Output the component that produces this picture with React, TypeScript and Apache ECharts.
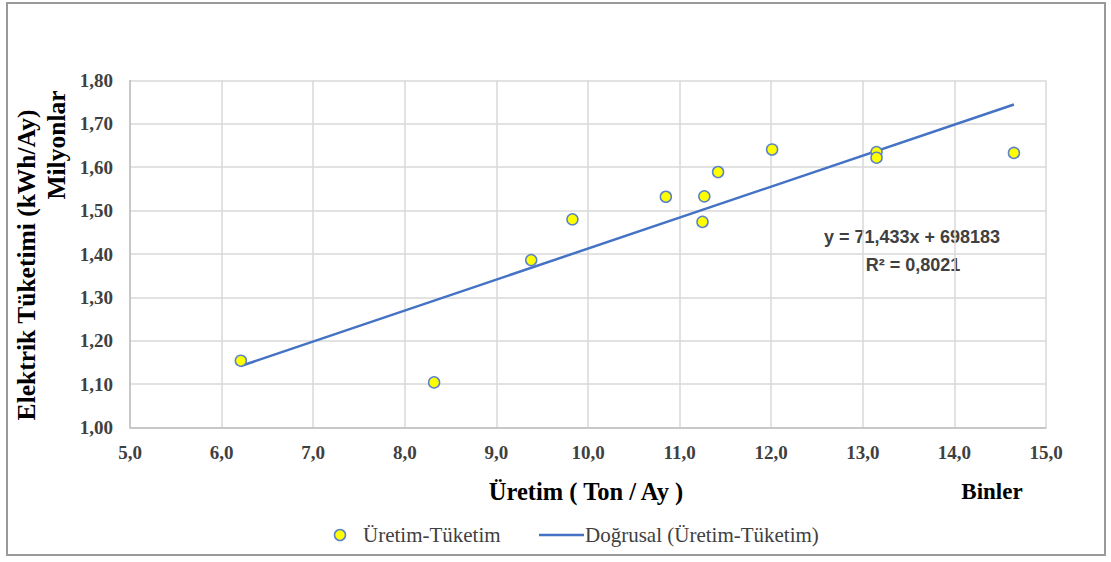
import React, { useEffect, useRef } from "react";
import * as echarts from "echarts";

// Üretim (Ton/Ay, Binler) and Elektrik Tüketimi (kWh/Ay, Milyonlar)
const productionK: number[] = [6.21, 8.32, 9.38, 9.83, 10.85, 11.25, 11.27, 11.42, 12.01, 13.15, 13.15, 14.65];
const consumptionM: number[] = [1.154, 1.104, 1.386, 1.48, 1.532, 1.474, 1.533, 1.589, 1.641, 1.635, 1.622, 1.633];

// Trend line (Doğrusal) from the printed equation: y = 71,433x + 698183
const SLOPE = 71.433;
const INTERCEPT = 698183;
const R2 = "0,8021";

const xTicks = { min: 5, max: 15, interval: 1 };
const yTicks = { min: 1.0, max: 1.8, interval: 0.1 };

const seriesNames = ["Üretim-Tüketim", "Doğrusal (Üretim-Tüketim)"];

const SERIF = "'Liberation Serif', 'Times New Roman', serif";
const SANS = "'Liberation Sans', Arial, sans-serif";
const LINE_COLOR = "#4472c4";

export default function App() {
  const ref = useRef<HTMLDivElement>(null);

  useEffect(() => {
    if (!ref.current) return;
    const chart = echarts.init(ref.current, undefined, { renderer: "svg" });

    const points = productionK.map((x, i) => [x, consumptionM[i]]);
    const xMin = Math.min(...productionK);
    const xMax = Math.max(...productionK);
    const trend = (xk: number) => (SLOPE * xk * 1000 + INTERCEPT) / 1e6;
    const trendData = [
      [xMin, trend(xMin)],
      [xMax, trend(xMax)],
    ];

    const titleText = (text: string, x: number, y: number, size: number, rot = 0) => ({
      type: "text",
      x,
      y,
      rotation: rot,
      silent: true,
      style: {
        text,
        fontFamily: SERIF,
        fontWeight: "bold",
        fontSize: size,
        fill: "#000000",
        align: "center",
        verticalAlign: "middle",
      },
    });

    chart.setOption({
      animation: false,
      backgroundColor: "#ffffff",
      grid: { left: 130, right: 65, top: 80.5, bottom: 134.5, containLabel: false },
      xAxis: {
        type: "value",
        min: xTicks.min,
        max: xTicks.max,
        interval: xTicks.interval,
        axisLine: { show: true, lineStyle: { color: "#bfbfbf", width: 1.5 } },
        axisTick: { show: false },
        splitLine: { show: true, lineStyle: { color: "#d9d9d9", width: 1.5 } },
        axisLabel: {
          margin: 15,
          color: "#404040",
          fontFamily: SERIF,
          fontWeight: "bold",
          fontSize: 19,
          formatter: (v: number) => v.toFixed(1).replace(".", ","),
        },
      },
      yAxis: {
        type: "value",
        min: yTicks.min,
        max: yTicks.max,
        interval: yTicks.interval,
        axisLine: { show: true, lineStyle: { color: "#bfbfbf", width: 1.5 } },
        axisTick: { show: false },
        splitLine: { show: true, lineStyle: { color: "#d9d9d9", width: 1.5 } },
        axisLabel: {
          margin: 17,
          color: "#404040",
          fontFamily: SERIF,
          fontWeight: "bold",
          fontSize: 19,
          formatter: (v: number) => v.toFixed(2).replace(".", ","),
        },
      },
      series: [
        {
          name: seriesNames[1],
          type: "line",
          data: trendData,
          symbol: "none",
          lineStyle: { color: LINE_COLOR, width: 2.5 },
          itemStyle: { color: LINE_COLOR },
          z: 2,
        },
        {
          name: seriesNames[0],
          type: "scatter",
          data: points,
          symbol: "circle",
          symbolSize: 11,
          itemStyle: { color: "#ffff00", borderColor: "#5b83c6", borderWidth: 1.5, opacity: 1 },
          z: 3,
        },
      ],
      graphic: [
        {
          type: "rect",
          shape: { x: 7, y: 3, width: 1098, height: 552 },
          style: { fill: "none", stroke: "#9a9a9a", lineWidth: 2 },
          silent: true,
        },
        titleText("Elektrik Tüketimi (kWh/Ay)", 26, 265, 25.5, Math.PI / 2),
        titleText("Milyonlar", 56, 145, 25.5, Math.PI / 2),
        titleText("Üretim ( Ton / Ay )", 586, 491, 24.5),
        titleText("Binler", 992, 491, 23),
        {
          type: "text",
          x: 912,
          y: 237,
          silent: true,
          style: {
            text: "y = " + SLOPE.toFixed(3).replace(".", ",") + "x + " + INTERCEPT,
            fontFamily: SANS,
            fontWeight: "bold",
            fontSize: 18,
            fill: "#404040",
            align: "center",
            verticalAlign: "middle",
          },
        },
        {
          type: "text",
          x: 913,
          y: 265,
          silent: true,
          style: {
            text: "R² = " + R2,
            fontFamily: SANS,
            fontWeight: "bold",
            fontSize: 18,
            fill: "#404040",
            align: "center",
            verticalAlign: "middle",
          },
        },
        // legend
        {
          type: "circle",
          silent: true,
          shape: { cx: 340, cy: 535, r: 5.5 },
          style: { fill: "#ffff00", stroke: "#5b83c6", lineWidth: 1.5 },
        },
        {
          type: "text",
          x: 363,
          y: 535,
          silent: true,
          style: {
            text: seriesNames[0],
            fontFamily: SERIF,
            fontSize: 21,
            fill: "#404040",
            align: "left",
            verticalAlign: "middle",
          },
        },
        {
          type: "line",
          silent: true,
          shape: { x1: 539, y1: 535, x2: 584, y2: 535 },
          style: { stroke: LINE_COLOR, lineWidth: 2.5 },
        },
        {
          type: "text",
          x: 585,
          y: 535,
          silent: true,
          style: {
            text: seriesNames[1],
            fontFamily: SERIF,
            fontSize: 21,
            fill: "#404040",
            align: "left",
            verticalAlign: "middle",
          },
        },
      ],
    });

    return () => chart.dispose();
  }, []);

  return (
    <div
      ref={ref}
      style={{ position: "absolute", left: 0, top: 0, width: 1111, height: 562 }}
    />
  );
}
